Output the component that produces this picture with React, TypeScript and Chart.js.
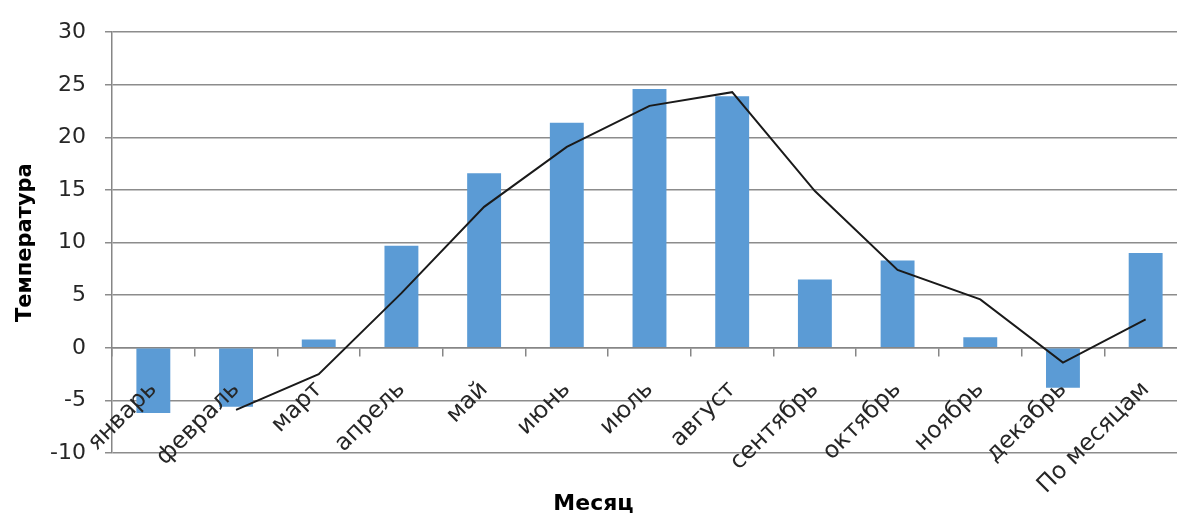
import React, { useEffect, useRef } from "react";
import { Chart, registerables } from "chart.js";

Chart.register(...registerables);

const categories = [
  "январь",
  "февраль",
  "март",
  "апрель",
  "май",
  "июнь",
  "июль",
  "август",
  "сентябрь",
  "октябрь",
  "ноябрь",
  "декабрь",
  "По месяцам",
];
const temperatures = [-6.2, -5.6, 0.8, 9.7, 16.6, 21.4, 24.6, 23.9, 6.5, 8.3, 1.0, -3.8, 9.0];
const trendValues = [null, -5.9, -2.5, 5.2, 13.4, 19.1, 23.0, 24.3, 14.9, 7.4, 4.6, -1.4, 2.7];
const yMin = -10;
const yMax = 30;
const yStep = 5;
const yTitle = "Температура";
const xTitle = "Месяц";

const FONT = "'DejaVu Sans', sans-serif";

export default function App() {
  const canvasRef = useRef<HTMLCanvasElement | null>(null);

  useEffect(() => {
    if (!canvasRef.current) return;
    const chart = new Chart(canvasRef.current, {
      type: "bar",
      data: {
        labels: categories,
        datasets: [
          {
            type: "line",
            data: trendValues as any,
            borderColor: "#1a1a1a",
            borderWidth: 2,
            pointRadius: 0,
            tension: 0,
            fill: false,
            order: 0,
          } as any,
          {
            type: "bar",
            data: temperatures,
            backgroundColor: "#5B9BD5",
            barPercentage: 0.41,
            categoryPercentage: 1,
            order: 1,
          },
        ],
      },
      options: {
        responsive: false,
        animation: false,
        layout: { padding: { top: 29, right: 13, left: 0, bottom: 0 } },
        plugins: {
          legend: { display: false },
          tooltip: { enabled: false },
          title: {
            display: true,
            position: "bottom",
            text: xTitle,
            color: "#000",
            font: { family: FONT, size: 22, weight: "bold", lineHeight: 1 },
            padding: { top: 40, bottom: 0 },
          },
        },
        scales: {
          x: {
            position: { y: 0 } as any,
            offset: true,
            grid: {
              display: true,
              drawOnChartArea: false,
              drawTicks: true,
              tickLength: 8,
              offset: true,
              color: "#868686",
              lineWidth: 1.5,
            },
            border: { display: true, color: "#868686", width: 1.5 },
            ticks: {
              z: 1,
              autoSkip: false,
              minRotation: 45,
              maxRotation: 45,
              padding: 20,
              color: "#262626",
              font: { family: FONT, size: 23.5 },
            },
          },
          y: {
            min: yMin,
            max: yMax,
            ticks: {
              stepSize: yStep,
              padding: 19,
              color: "#262626",
              font: { family: FONT, size: 22 },
            },
            grid: { color: "#8c8c8c", lineWidth: 1.5, tickLength: 7 },
            border: { display: true, color: "#868686", width: 1.5 },
            title: {
              display: true,
              text: yTitle,
              color: "#000",
              font: { family: FONT, size: 21, weight: "bold" },
              padding: { top: 13, bottom: 0 },
            },
            afterFit: (scale: any) => {
              scale.width = 112;
            },
          },
        },
      },
    });
    return () => chart.destroy();
  }, []);

  return (
    <div
      style={{
        position: "fixed",
        left: 0,
        top: 0,
        width: 1177,
        height: 515,
        overflow: "hidden",
        background: "#fff",
      }}
    >
      <canvas ref={canvasRef} width={1200} height={515} />
    </div>
  );
}
